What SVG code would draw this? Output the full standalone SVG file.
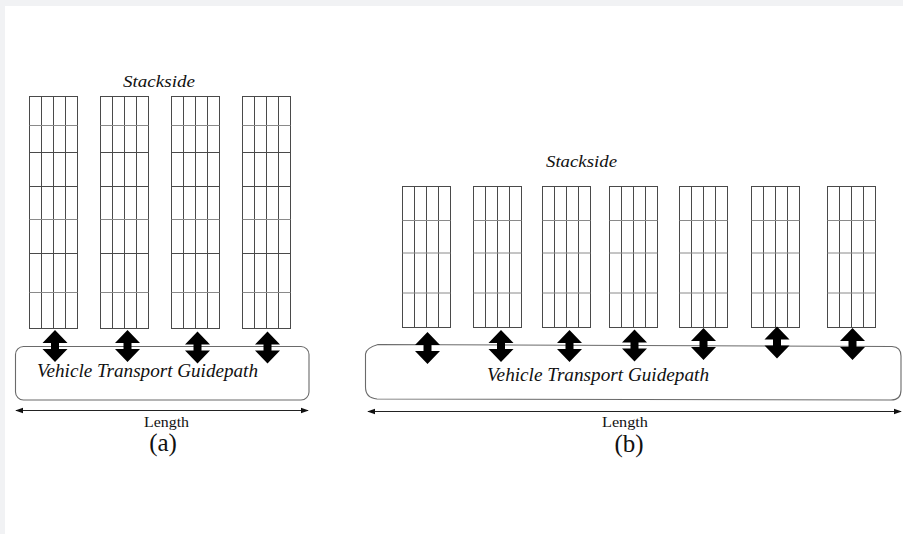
<svg xmlns="http://www.w3.org/2000/svg" xmlns:xlink="http://www.w3.org/1999/xlink" width="903" height="534" viewBox="0 0 903 534">
  <style>
    .grid { fill: none; stroke: #4a4a4a; stroke-width: 1; }
    .gridl { fill: none; stroke: #8a8a8a; stroke-width: 1; }
    .path { fill: none; stroke: #6a6a6a; stroke-width: 1.1; }
    .dbl { fill: #000; }
    .len { stroke: #222; stroke-width: 1; fill: none; }
    .it { font-family: "Liberation Serif", "DejaVu Serif", serif; font-style: italic; fill: #111; }
    .rm { font-family: "Liberation Serif", "DejaVu Serif", serif; fill: #111; }
  </style>
  <defs>
    <marker id="ah" viewBox="0 0 10 10" refX="9" refY="5" markerWidth="8" markerHeight="8" markerUnits="userSpaceOnUse" orient="auto-start-reverse">
      <path d="M0,1.5 L10,5 L0,8.5 Z" fill="#111"/>
    </marker>
    <!-- tall stack block, seven tiers, four bays -->
    <g id="stackA">
      <rect class="grid" x="0" y="0" width="48" height="232"/>
      <path class="grid" d="M12,0V232M24,0V232M36,0V232"/>
      <path class="grid" d="M0,56H48M0,90H48M0,157H48"/>
      <path class="gridl" d="M0,29H48M0,123H48M0,196H48"/>
    </g>
    <!-- short stack block, four tiers, four bays -->
    <g id="stackB">
      <rect class="grid" x="0" y="0" width="48" height="141"/>
      <path class="grid" d="M12,0V141M24,0V141M36,0V141"/>
      <path class="gridl" d="M0,34H48M0,66.5H48M0,106.5H48"/>
    </g>
    <!-- double-headed transfer arrow, tip at origin -->
    <path id="dblArrow" class="dbl" d="M0,0 L12.5,13 L4,13 L4,19 L12.5,19 L0,32 L-12.5,19 L-4,19 L-4,13 L-12.5,13 Z"/>
  </defs>

  <rect x="0" y="0" width="903" height="534" fill="#f1f2f4"/>
  <rect x="5" y="6" width="898" height="528" fill="#ffffff"/>

  <!-- layout (a) -->
  <g id="layout-a">
    <text class="it" x="123" y="86.5" font-size="17" textLength="72" lengthAdjust="spacingAndGlyphs">Stackside</text>
    <g id="stack-a1"><use xlink:href="#stackA" x="29.5" y="96.5"/></g>
    <g id="stack-a2"><use xlink:href="#stackA" x="100.5" y="96.5"/></g>
    <g id="stack-a3"><use xlink:href="#stackA" x="171.5" y="96.5"/></g>
    <g id="stack-a4"><use xlink:href="#stackA" x="242.5" y="96.5"/></g>
    <g id="guidepath-a">
      <rect class="path" x="15.5" y="346.5" width="293.5" height="53.5" rx="8" ry="8"/>
      <text class="it" x="37" y="377" font-size="18.5" textLength="221" lengthAdjust="spacingAndGlyphs">Vehicle Transport Guidepath</text>
    </g>
    <g id="transfers-a">
      <use xlink:href="#dblArrow" x="55" y="330"/>
      <use xlink:href="#dblArrow" x="127.5" y="330"/>
      <use xlink:href="#dblArrow" x="197.5" y="331.5"/>
      <use xlink:href="#dblArrow" x="267.5" y="331.5"/>
    </g>
    <g id="length-a">
      <line class="len" x1="16" y1="410.5" x2="308" y2="410.5" marker-start="url(#ah)" marker-end="url(#ah)"/>
      <text class="rm" x="144" y="426.5" font-size="15" textLength="45" lengthAdjust="spacingAndGlyphs">Length</text>
      <text class="rm" x="163" y="451" font-size="25" text-anchor="middle">(a)</text>
    </g>
  </g>

  <!-- layout (b) -->
  <g id="layout-b">
    <text class="it" x="546" y="166.5" font-size="17" textLength="71" lengthAdjust="spacingAndGlyphs">Stackside</text>
    <g id="stack-b1"><use xlink:href="#stackB" x="402.5" y="186.5"/></g>
    <g id="stack-b2"><use xlink:href="#stackB" x="473.5" y="186.5"/></g>
    <g id="stack-b3"><use xlink:href="#stackB" x="542.5" y="186.5"/></g>
    <g id="stack-b4"><use xlink:href="#stackB" x="609.5" y="186.5"/></g>
    <g id="stack-b5"><use xlink:href="#stackB" x="679.5" y="186.5"/></g>
    <g id="stack-b6"><use xlink:href="#stackB" x="751.5" y="186.5"/></g>
    <g id="stack-b7"><use xlink:href="#stackB" x="827.5" y="186.5"/></g>
    <g id="guidepath-b">
      <path class="path" d="M378,344.5 L892,346.5 Q901,347 901,356 L901,390 Q901,400 891,400 L377,399 Q365.5,398 365.5,387 L365.5,354 Q366,348 378,344.5 Z"/>
      <text class="it" x="487" y="380.5" font-size="18.5" textLength="222" lengthAdjust="spacingAndGlyphs">Vehicle Transport Guidepath</text>
    </g>
    <g id="transfers-b">
      <use xlink:href="#dblArrow" x="427.5" y="332"/>
      <use xlink:href="#dblArrow" x="501" y="330"/>
      <use xlink:href="#dblArrow" x="569.5" y="330"/>
      <use xlink:href="#dblArrow" x="634.5" y="329.5"/>
      <use xlink:href="#dblArrow" x="703.5" y="328"/>
      <use xlink:href="#dblArrow" x="777" y="326.5"/>
      <use xlink:href="#dblArrow" x="852.5" y="328"/>
    </g>
    <g id="length-b">
      <line class="len" x1="368" y1="411.5" x2="901" y2="411.5" marker-start="url(#ah)" marker-end="url(#ah)"/>
      <text class="rm" x="602" y="427" font-size="15" textLength="46" lengthAdjust="spacingAndGlyphs">Length</text>
      <text class="rm" x="629" y="452" font-size="25" text-anchor="middle">(b)</text>
    </g>
  </g>
</svg>
